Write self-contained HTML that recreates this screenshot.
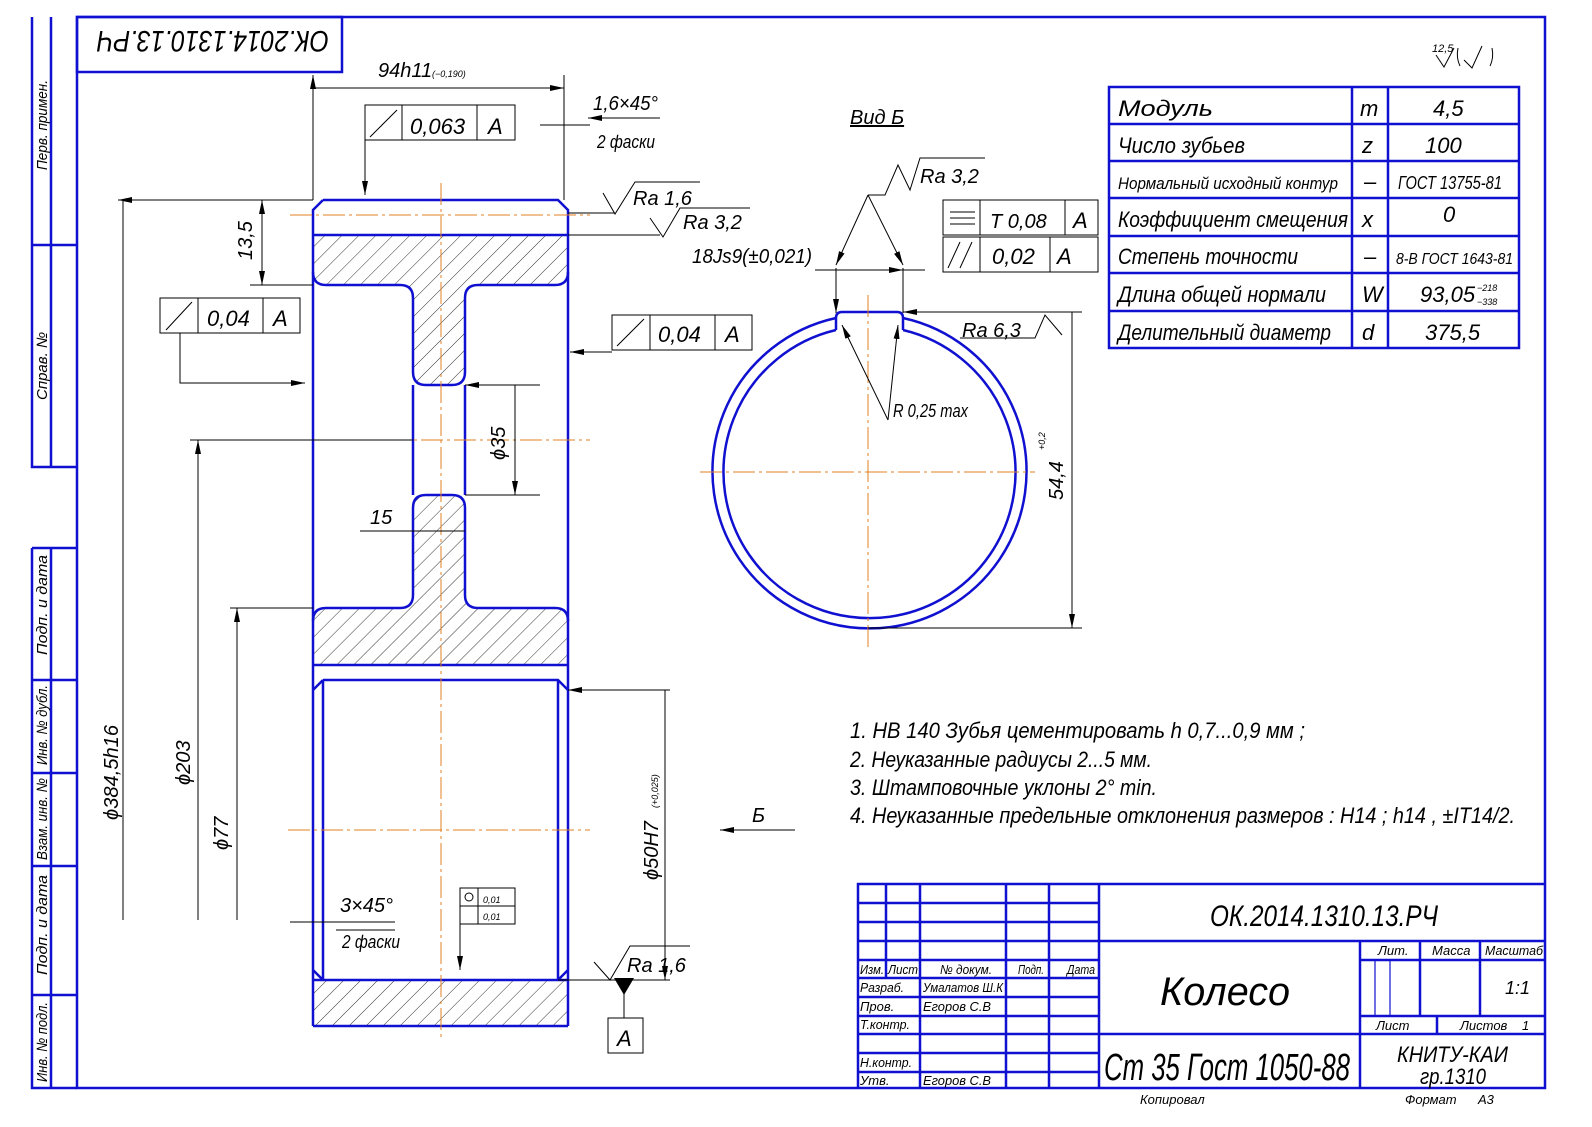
<!DOCTYPE html>
<html><head><meta charset="utf-8"><style>
html,body{margin:0;padding:0;background:#fff}
svg{display:block}
text{font-family:"Liberation Sans","DejaVu Sans",sans-serif;font-style:italic;fill:#000}
.b{stroke:#1010d0;stroke-width:2.5;fill:none}
.t{stroke:#000;stroke-width:1;fill:none}
.c{stroke:#e08020;stroke-width:1;stroke-dasharray:22,4,3,4;fill:none}
</style></head><body>
<svg width="1592" height="1127" viewBox="0 0 1592 1127" xmlns="http://www.w3.org/2000/svg">
<defs>
<pattern id="h" width="12" height="12" patternUnits="userSpaceOnUse" patternTransform="rotate(45)">
<line x1="0" y1="0" x2="0" y2="12" stroke="#000" stroke-width="0.8"/></pattern>
<marker id="a" markerWidth="14" markerHeight="6" refX="14" refY="3" orient="auto-start-reverse" markerUnits="userSpaceOnUse"><path d="M0,0 L14,3 L0,6z" fill="#000"/></marker>
</defs>
<rect x="0" y="0" width="1592" height="1127" fill="#fff"/>
<!-- frame -->
<rect class="b" x="77" y="17" width="1468" height="1071"/>
<rect class="b" x="77" y="17" width="265" height="55"/>
<g transform="rotate(180,212,44)"><text x="95" y="57" font-size="30" textLength="232" lengthAdjust="spacingAndGlyphs">ОК.2014.1310.13.РЧ</text></g>
<!-- left strip -->
<path class="b" d="M32,17 V467 H77 M51,17 V467 M32,245 H77 M32,548 V1088 H77 M32,548 H77 M51,548 V1088 M32,680 H77 M32,773 H77 M32,866 H77 M32,995 H77"/>
<g font-size="15">
<text transform="translate(47,170) rotate(-90)" textLength="90" lengthAdjust="spacingAndGlyphs">Перв. примен.</text>
<text transform="translate(47,400) rotate(-90)">Справ. №</text>
<text transform="translate(47,655) rotate(-90)" textLength="100" lengthAdjust="spacingAndGlyphs">Подп. и дата</text>
<text transform="translate(47,765) rotate(-90)" textLength="80" lengthAdjust="spacingAndGlyphs">Инв. № дубл.</text>
<text transform="translate(47,860) rotate(-90)" textLength="82" lengthAdjust="spacingAndGlyphs">Взам. инв. №</text>
<text transform="translate(47,975) rotate(-90)" textLength="100" lengthAdjust="spacingAndGlyphs">Подп. и дата</text>
<text transform="translate(47,1082) rotate(-90)" textLength="80" lengthAdjust="spacingAndGlyphs">Инв. № подл.</text>
</g>
<!-- wheel section -->
<path d="M313,235 H568 V272 Q568,285 555,285 H478 Q465,285 465,298 V372 Q465,385 452,385 H426 Q413,385 413,372 V298 Q413,285 400,285 H326 Q313,285 313,272Z" fill="url(#h)"/>
<path d="M413,508 Q413,495 426,495 H452 Q465,495 465,508 V595 Q465,608 478,608 H555 Q568,608 568,621 V665 H313 V621 Q313,608 326,608 H400 Q413,608 413,595Z" fill="url(#h)"/>
<rect x="313" y="980" width="255" height="46" fill="url(#h)"/>
<g class="b">
<path d="M323,200 H558 L568,210 V1026 M313,1026 V210 L323,200"/>
<path d="M313,235 H568"/>
<path d="M313,272 Q313,285 326,285 H400 Q413,285 413,298 V372 Q413,385 426,385 H452 Q465,385 465,372 V298 Q465,285 478,285 H555 Q568,285 568,272"/>
<path d="M413,385 V495 M465,385 V495"/>
<path d="M413,508 Q413,495 426,495 H452 Q465,495 465,508 V595 Q465,608 478,608 H555 Q568,608 568,621"/>
<path d="M413,508 V595 Q413,608 400,608 H326 Q313,608 313,621"/>
<path d="M313,665 H568 M313,1026 H568"/>
<path d="M323,680 H558 L568,690 M313,690 L323,680 M323,680 V980 M558,680 V980 M313,980 H568 M313,970 L323,980 M558,980 L568,970"/>
</g>
<path class="c" d="M441,183 V1040 M290,215 H590 M190,440 H590 M288,830 H590"/>
<!-- dims left -->
<g class="t">
<path d="M118,200 H313 M123,200 V920" marker-start="url(#a)"/>
<path d="M190,440 H413 M198,440 V920"/>
<path d="M198,440 V445" marker-start="url(#a)"/>
<path d="M230,608 H313 M237,608 V920"/>
<path d="M237,608 V614" marker-start="url(#a)"/>
<path d="M262,200 V285" marker-start="url(#a)" marker-end="url(#a)"/>
<path d="M250,285 H313"/>
<path d="M465,385 H540 M465,495 H540 M515,385 V495" marker-start="url(#a)" marker-end="url(#a)"/>
<path d="M360,531 H413 M413,531 H465" />
<path d="M313,75 V200 M564,75 V200 M313,88 H564" marker-start="url(#a)" marker-end="url(#a)"/>
<path d="M568,690 H670 M558,980 H670 M665,690 V980" marker-start="url(#a)" marker-end="url(#a)"/>
<path d="M290,922 H313 M313,922 H395"/>
<path d="M720,830 H795" marker-start="url(#a)"/>
</g>
<g font-size="20">
<text transform="translate(118,820) rotate(-90)" textLength="95" lengthAdjust="spacingAndGlyphs">ϕ384,5h16</text>
<text transform="translate(190,785) rotate(-90)">ϕ203</text>
<text transform="translate(228,850) rotate(-90)">ϕ77</text>
<text transform="translate(252,260) rotate(-90)">13,5</text>
<text transform="translate(505,460) rotate(-90)">ϕ35</text>
<text x="370" y="524">15</text>
<text transform="translate(658,880) rotate(-90)">ϕ50H7</text>
<text transform="translate(658,808) rotate(-90)" font-size="9">(+0,025)</text>
<text x="378" y="77">94h11</text><text x="432" y="77" font-size="9">(−0,190)</text>
<text x="593" y="110" textLength="65" lengthAdjust="spacingAndGlyphs">1,6×45°</text>
<text x="597" y="148" font-size="18" textLength="58" lengthAdjust="spacingAndGlyphs">2 фаски</text>
<text x="340" y="912">3×45°</text>
<text x="342" y="948" font-size="18" textLength="58" lengthAdjust="spacingAndGlyphs">2 фаски</text>
<text x="752" y="822">Б</text>
</g>
<path class="t" d="M588,118 H660 M564,125 H540" marker-start="url(#a)"/>
<path class="t" d="M564,125 H590 M336,930 H395"/>
<!-- FCF boxes -->
<g class="t">
<rect x="365" y="105" width="150" height="35"/><path d="M402,105 V140 M477,105 V140 M370,137 L397,110"/>
<path d="M365,122 V195" marker-end="url(#a)"/>
<rect x="160" y="298" width="140" height="35"/><path d="M198,298 V333 M263,298 V333 M166,330 L192,302"/>
<path d="M180,333 V383 H305" marker-end="url(#a)"/>
<rect x="612" y="315" width="140" height="35"/><path d="M650,315 V350 M715,315 V350 M617,346 L644,319"/>
<path d="M612,352 H570" marker-end="url(#a)"/>
<rect x="943" y="200" width="155" height="35"/><path d="M980,200 V235 M1065,200 V235"/>
<rect x="943" y="237" width="155" height="35"/><path d="M980,237 V272 M1050,237 V272"/>
<path d="M950,212 H975 M950,218 H975 M950,224 H975 M948,268 L960,242 M960,268 L972,242"/>
<rect x="460" y="888" width="55" height="36"/><path d="M460,906 H515 M478,888 V924"/>
<circle cx="469" cy="897" r="4"/>
<path d="M460,924 V970" marker-end="url(#a)"/>
<path d="M594,962 L610,980 L630,946 H690 M603,193 L615,214 L635,182 H700 M650,218 L663,237 L680,208 H750"/>
<path d="M568,213 H615 M568,235 H660"/>
<path d="M624,980 V1018"/>
<rect x="608" y="1018" width="35" height="35"/>
</g>
<path d="M614,978 L634,978 L624,995Z" fill="#000"/>
<g font-size="22">
<text x="410" y="134">0,063</text><text x="488" y="134">A</text>
<text x="207" y="326">0,04</text><text x="273" y="326">A</text>
<text x="658" y="342">0,04</text><text x="725" y="342">A</text>
<text x="990" y="228" font-size="20">T 0,08</text><text x="1073" y="228">A</text>
<text x="992" y="264">0,02</text><text x="1057" y="264">A</text>
<text x="617" y="1046">A</text>
<text x="633" y="205" font-size="20">Ra 1,6</text>
<text x="683" y="229" font-size="20">Ra 3,2</text>
<text x="627" y="972" font-size="20">Ra 1,6</text>
<text x="692" y="263" font-size="20" textLength="120" lengthAdjust="spacingAndGlyphs">18Js9(±0,021)</text>
</g>
<text x="483" y="903" font-size="9">0,01</text><text x="483" y="920" font-size="9">0,01</text>
<!-- Vid B -->
<text x="850" y="124" font-size="20" text-decoration="underline">Вид Б</text>
<g class="b">
<path d="M836,318 A157,157 0 1,0 903,318"/>
<path d="M836,330 A146,146 0 1,0 903,330"/>
<path d="M836,318 V330 M903,318 V330 M836,318 Q836,312 842,312 H897 Q903,312 903,318"/>
</g>
<path class="c" d="M868,295 V650 M700,472 H1035"/>
<g class="t">
<path d="M836,313 V268 M903,313 V268 M836,270 H903" marker-start="url(#a)" marker-end="url(#a)"/>
<path d="M815,270 H836 M903,270 H925"/>
<path d="M868,195 L836,265" marker-end="url(#a)"/>
<path d="M868,195 L903,265" marker-end="url(#a)"/>
<path d="M868,195 L885,195 L898,165 L910,190 L920,158 H985"/>
<path d="M888,420 L842,325" marker-end="url(#a)"/>
<path d="M888,420 L898,325" marker-end="url(#a)"/>
<path d="M903,312 H1082 M868,628 H1082 M1072,312 V628" marker-start="url(#a)" marker-end="url(#a)"/>
<path d="M960,338 H1035 L1045,315 L1062,335"/>
</g>
<g font-size="20">
<text x="920" y="183">Ra 3,2</text>
<text x="893" y="417" font-size="18" textLength="75" lengthAdjust="spacingAndGlyphs">R 0,25 max</text>
<text x="962" y="337">Ra 6,3</text>
<text transform="translate(1063,500) rotate(-90)">54,4</text>
<text transform="translate(1045,450) rotate(-90)" font-size="9">+0,2</text>
</g>
<!-- roughness top right -->
<text x="1432" y="52" font-size="11">12,5</text>
<path class="t" d="M1436,55 L1444,67 L1454,48 M1458,48 Q1456,58 1460,66 M1492,48 Q1494,58 1490,66"/>
<path class="t" d="M1464,60 L1472,68 L1482,46"/>
<!-- table -->
<g class="b">
<rect x="1109" y="87" width="410" height="261"/>
<path d="M1109,124 H1519 M1109,161 H1519 M1109,198 H1519 M1109,236 H1519 M1109,273 H1519 M1109,311 H1519 M1352,87 V348 M1388,87 V348"/>
</g>
<g font-size="22">
<text x="1118" y="116" textLength="95" lengthAdjust="spacingAndGlyphs">Модуль</text><text x="1360" y="116">m</text><text x="1433" y="116">4,5</text>
<text x="1118" y="153" textLength="127" lengthAdjust="spacingAndGlyphs">Число зубьев</text><text x="1362" y="153">z</text><text x="1425" y="153">100</text>
<text x="1118" y="189" font-size="17" textLength="220" lengthAdjust="spacingAndGlyphs">Нормальный исходный контур</text><text x="1364" y="189">–</text><text x="1398" y="189" font-size="18" textLength="104" lengthAdjust="spacingAndGlyphs">ГОСТ 13755-81</text>
<text x="1118" y="227" textLength="230" lengthAdjust="spacingAndGlyphs">Коэффициент смещения</text><text x="1362" y="227">x</text><text x="1443" y="222">0</text>
<text x="1118" y="264" textLength="180" lengthAdjust="spacingAndGlyphs">Степень точности</text><text x="1364" y="264">–</text><text x="1396" y="264" font-size="16" textLength="117" lengthAdjust="spacingAndGlyphs">8-В ГОСТ 1643-81</text>
<text x="1118" y="302" textLength="208" lengthAdjust="spacingAndGlyphs">Длина общей нормали</text><text x="1362" y="302">W</text><text x="1420" y="302">93,05</text><text x="1477" y="291" font-size="9">−218</text><text x="1477" y="305" font-size="9">−338</text>
<text x="1118" y="340" textLength="213" lengthAdjust="spacingAndGlyphs">Делительный диаметр</text><text x="1362" y="340">d</text><text x="1425" y="340">375,5</text>
</g>
<!-- notes -->
<g font-size="22">
<text x="850" y="738" textLength="455" lengthAdjust="spacingAndGlyphs">1.  НВ 140 Зубья цементировать  h 0,7...0,9 мм ;</text>
<text x="850" y="767" textLength="302" lengthAdjust="spacingAndGlyphs">2. Неуказанные радиусы 2...5 мм.</text>
<text x="850" y="795" textLength="307" lengthAdjust="spacingAndGlyphs">3. Штамповочные уклоны 2° min.</text>
<text x="850" y="823" textLength="665" lengthAdjust="spacingAndGlyphs">4. Неуказанные предельные отклонения размеров : Н14 ; h14 , ±IT14/2.</text>
</g>
<!-- title block -->
<g class="b">
<path d="M858,1088 V884 H1545 M858,903 H1099 M858,922 H1099 M858,941 H1545 M858,960 H1099 M858,978 H1099 M858,997 H1099 M858,1016 H1099 M858,1034 H1545 M858,1053 H1099 M858,1072 H1099"/>
<path d="M886,884 V978 M920,884 V1088 M1006,884 V1088 M1049,884 V1088 M1099,884 V1088 M1360,941 V1088 M1360,960 H1545 M1360,1016 H1545 M1420,941 V1016 M1480,941 V1016 M1437,1016 V1034"/>
<path d="M1375,960 V1016 M1390,960 V1016" style="stroke-width:1.2"/>
</g>
<g font-size="13">
<text x="860" y="974" textLength="24" lengthAdjust="spacingAndGlyphs">Изм.</text><text x="888" y="974" textLength="30" lengthAdjust="spacingAndGlyphs">Лист</text><text x="940" y="974" textLength="52" lengthAdjust="spacingAndGlyphs">№ докум.</text><text x="1018" y="974" textLength="26" lengthAdjust="spacingAndGlyphs">Подп.</text><text x="1067" y="974" textLength="28" lengthAdjust="spacingAndGlyphs">Дата</text>
<text x="860" y="992" textLength="44" lengthAdjust="spacingAndGlyphs">Разраб.</text><text x="923" y="992" textLength="80" lengthAdjust="spacingAndGlyphs">Умалатов Ш.К</text>
<text x="860" y="1011">Пров.</text><text x="923" y="1011" textLength="68" lengthAdjust="spacingAndGlyphs">Егоров С.В</text>
<text x="860" y="1029" textLength="50" lengthAdjust="spacingAndGlyphs">Т.контр.</text>
<text x="860" y="1067" textLength="52" lengthAdjust="spacingAndGlyphs">Н.контр.</text>
<text x="860" y="1085">Утв.</text><text x="923" y="1085" textLength="68" lengthAdjust="spacingAndGlyphs">Егоров С.В</text>
<text x="1378" y="955">Лит.</text><text x="1432" y="955">Масса</text><text x="1485" y="955" textLength="58" lengthAdjust="spacingAndGlyphs">Масштаб</text>
<text x="1505" y="994" font-size="18">1:1</text>
<text x="1376" y="1030">Лист</text><text x="1460" y="1030">Листов</text><text x="1522" y="1030">1</text>
<text x="1140" y="1104">Копировал</text><text x="1405" y="1104">Формат</text><text x="1478" y="1104">А3</text>
</g>
<text x="1210" y="926" font-size="30" textLength="228" lengthAdjust="spacingAndGlyphs">ОК.2014.1310.13.РЧ</text>
<text x="1160" y="1005" font-size="40" textLength="130" lengthAdjust="spacingAndGlyphs">Колесо</text>
<text x="1104" y="1080" font-size="38" textLength="246" lengthAdjust="spacingAndGlyphs">Ст 35 Гост 1050-88</text>
<text x="1397" y="1062" font-size="22" textLength="111" lengthAdjust="spacingAndGlyphs">КНИТУ-КАИ</text>
<text x="1420" y="1084" font-size="22" textLength="66" lengthAdjust="spacingAndGlyphs">гр.1310</text>
</svg>
</body></html>
